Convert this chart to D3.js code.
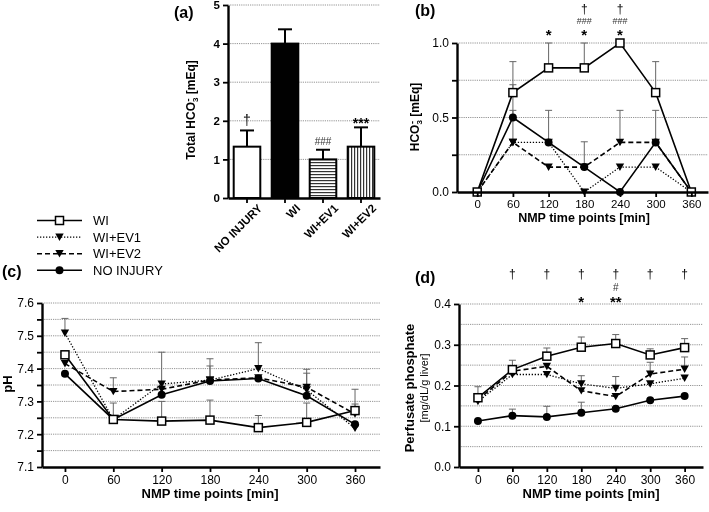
<!DOCTYPE html>
<html><head><meta charset="utf-8">
<script src="https://cdn.jsdelivr.net/npm/d3@7"></script>
<style>
body{margin:0;background:#fff;}
svg{display:block;font-family:"Liberation Sans",Arial,Helvetica,sans-serif;}
</style></head><body>
<svg id="chart" width="709" height="512"></svg>
<script>
// ---------- data ----------
const times = [0, 60, 120, 180, 240, 300, 360];
const seriesNames = ["WI", "WI+EV1", "WI+EV2", "NO INJURY"];

// panel (a)
const barCategories = ["NO INJURY", "WI", "WI+EV1", "WI+EV2"];
const barValues = [1.33, 4.0, 1.0, 1.33];
const barErrors = [0.42, 0.37, 0.25, 0.5];
const barMarks = ["†", "", "###", "***"];
const barTicks = [0, 1, 2, 3, 4, 5];

// panel (b) HCO3-
const hco3WI = [0, 0.667, 0.833, 0.833, 1.0, 0.667, 0];
const hco3EV1 = [0, 0.333, 0.333, 0, 0.167, 0.167, 0];
const hco3EV2 = [0, 0.333, 0.167, 0.167, 0.333, 0.333, 0];
const hco3NoInj = [0, 0.5, 0.333, 0.167, 0, 0.333, 0];
const hco3ErrWI = [0, 0.208, 0.167, 0.167, 0, 0.208, 0];
const hco3ErrEV1 = [0, 0.215, 0, 0, 0, 0, 0];
const hco3ErrEV2 = [0, 0, 0, 0, 0.215, 0, 0];
const hco3ErrNoInj = [0, 0.22, 0.215, 0.17, 0, 0.215, 0];
const hco3Ticks = [0, 0.25, 0.5, 0.75, 1.0];
const hco3Marks = [[], [], ["", "", "*"], ["†", "###", "*"], ["†", "###", "*"], [], []];

// panel (c) pH
const phWI = [7.442, 7.245, 7.24, 7.243, 7.22, 7.236, 7.272];
const phEV1 = [7.508, 7.245, 7.353, 7.365, 7.40, 7.335, 7.218];
const phEV2 = [7.415, 7.33, 7.337, 7.365, 7.372, 7.343, 7.262];
const phNoInj = [7.384, 7.245, 7.32, 7.362, 7.37, 7.317, 7.23];
const phErrWI = [0, 0.05, 0.06, 0.061, 0.037, 0.059, 0.065];
const phErrEV1 = [0.045, 0, 0.097, 0.065, 0.079, 0.051, 0];
const phErrEV2 = [0, 0.042, 0, 0, 0, 0.055, 0.03];
const phErrNoInj = [0, 0, 0, 0.046, 0, 0, 0];
const phTicks = [7.1, 7.15, 7.2, 7.25, 7.3, 7.35, 7.4, 7.45, 7.5, 7.55, 7.6];

// panel (d) perfusate phosphate
const phosWI = [0.17, 0.239, 0.272, 0.294, 0.303, 0.275, 0.293];
const phosEV1 = [0.161, 0.227, 0.227, 0.204, 0.193, 0.204, 0.218];
const phosEV2 = [0.165, 0.235, 0.247, 0.187, 0.173, 0.228, 0.24];
const phosNoInj = [0.113, 0.126, 0.123, 0.133, 0.143, 0.164, 0.174];
const phosErrWI = [0.027, 0.023, 0.02, 0.025, 0.022, 0.015, 0.022];
const phosErrEV1 = [0, 0, 0, 0.02, 0.029, 0, 0];
const phosErrEV2 = [0, 0, 0, 0, 0, 0.029, 0.03];
const phosErrNoInj = [0, 0.016, 0.026, 0.026, 0, 0, 0];
const phosTicks = [0, 0.1, 0.2, 0.3, 0.4];
const phosGrid = [0.05, 0.1, 0.15, 0.2, 0.25, 0.3, 0.35, 0.4];
const phosMarks = [[], ["†"], ["†"], ["†", "", "*"], ["†", "#", "**"], ["†"], ["†"]];

// ---------- styles ----------
const seriesStyle = {
  "WI": {dash: null, marker: "square"},
  "WI+EV1": {dash: "1.3,1.7", marker: "tri"},
  "WI+EV2": {dash: "5,3", marker: "tri"},
  "NO INJURY": {dash: null, marker: "circle"}
};
const FONT = '"Liberation Sans",Arial,Helvetica,sans-serif';
const root = d3.select("#chart");
root.append("rect").attr("width", 709).attr("height", 512).attr("fill", "#fff");
const svg = root.append("g").attr("opacity", 0.999);

// patterns
const defs = root.append("defs");
const ph = defs.append("pattern").attr("id", "hstripe").attr("patternUnits", "userSpaceOnUse")
  .attr("width", 4).attr("height", 3);
ph.append("rect").attr("width", 4).attr("height", 3).attr("fill", "#fff");
ph.append("rect").attr("y", 0).attr("width", 4).attr("height", 1.2).attr("fill", "#333");
const pv = defs.append("pattern").attr("id", "vstripe").attr("patternUnits", "userSpaceOnUse")
  .attr("width", 3).attr("height", 4);
pv.append("rect").attr("width", 3).attr("height", 4).attr("fill", "#fff");
pv.append("rect").attr("x", 0).attr("width", 1.2).attr("height", 4).attr("fill", "#333");

function drawMarker(g, type, x, y) {
  if (type === "square") {
    g.append("rect").attr("x", x - 4).attr("y", y - 4).attr("width", 8).attr("height", 8)
      .attr("fill", "#fff").attr("stroke", "#000").attr("stroke-width", 1.5);
  } else if (type === "circle") {
    g.append("circle").attr("cx", x).attr("cy", y).attr("r", 4).attr("fill", "#000");
  } else {
    g.append("path").attr("d", `M${x - 4.2},${y - 3.6}L${x + 4.2},${y - 3.6}L${x},${y + 3.8}Z`).attr("fill", "#000");
  }
}

function styleAxis(ax, fontSize, bold) {
  ax.select(".domain").attr("stroke", "#000").attr("stroke-width", 2.4);
  ax.selectAll(".tick line").attr("stroke", "#000").attr("stroke-width", 1.8);
  ax.selectAll(".tick text").attr("font-family", FONT).attr("font-size", fontSize)
    .attr("font-weight", bold ? "bold" : "normal").attr("fill", "#000");
}

function grid(g, xs, ys, vals) {
  const r = xs.range();
  g.append("g").selectAll("line").data(vals).join("line")
    .attr("x1", r[0]).attr("x2", r[1])
    .attr("y1", d => ys(d)).attr("y2", d => ys(d))
    .attr("stroke", "#888").attr("stroke-width", 0.9).attr("stroke-dasharray", "1.2,1");
}

// ---------- panel (a) ----------
const xA = d3.scaleBand().domain(barCategories).range([228, 380]).paddingInner(0.3).paddingOuter(0.15);
const yA = d3.scaleLinear().domain([0, 5]).range([198, 5]);
const gA = svg.append("g");
grid(gA, d3.scaleLinear().range([228, 380]), yA, [1, 2, 3, 4, 5]);
const fills = ["#fff", "#000", "url(#hstripe)", "url(#vstripe)"];
barCategories.forEach((c, i) => {
  const x0 = xA(c), w = xA.bandwidth(), cx = x0 + w / 2;
  const top = yA(barValues[i] + barErrors[i]);
  gA.append("line").attr("x1", cx).attr("x2", cx).attr("y1", yA(barValues[i])).attr("y2", top)
    .attr("stroke", "#000").attr("stroke-width", 2);
  gA.append("line").attr("x1", cx - 7).attr("x2", cx + 7).attr("y1", top).attr("y2", top)
    .attr("stroke", "#000").attr("stroke-width", 2);
  gA.append("rect").attr("x", x0).attr("y", yA(barValues[i])).attr("width", w)
    .attr("height", yA(0) - yA(barValues[i])).attr("fill", fills[i])
    .attr("stroke", "#000").attr("stroke-width", 2);
  if (barMarks[i]) {
    const m = barMarks[i];
    const fs = m === "###" ? 10 : 14;
    gA.append("text").attr("x", cx).attr("y", top - (m === "***" ? -1 : 5))
      .attr("text-anchor", "middle").attr("font-size", fs).attr("fill", m === "###" ? "#333" : "#000")
      .attr("font-weight", m === "***" ? "bold" : "normal")
      .text(m);
  }
});
const axAy = gA.append("g").attr("transform", "translate(228,0)")
  .call(d3.axisLeft(yA).tickValues(barTicks).tickFormat(d3.format("d")).tickSize(5).tickPadding(3).tickSizeOuter(0));
styleAxis(axAy, 11.5, true);
const axAx = gA.append("g").attr("transform", "translate(0,198)")
  .call(d3.axisBottom(xA).tickSize(5).tickSizeOuter(0));
styleAxis(axAx, 11.5, true);
axAx.selectAll(".tick text").attr("text-anchor", "end")
  .attr("transform", "translate(3,-2) rotate(-45)").attr("dx", 0).attr("dy", "0.9em")
  .attr("y", 8).attr("x", 0);
gA.append("text").attr("transform", "translate(195,110) rotate(-90)").attr("text-anchor", "middle")
  .attr("font-weight", "bold").attr("font-size", 12)
  .call(t => {
    t.append("tspan").text("Total HCO");
    t.append("tspan").attr("font-size", 8).attr("dy", 3).text("3");
    t.append("tspan").attr("font-size", 9).attr("dy", -7).attr("dx", -4).text("-");
    t.append("tspan").attr("dy", 4).attr("dx", 1).text(" [mEq]");
  });
svg.append("text").attr("x", 174).attr("y", 18).attr("font-weight", "bold").attr("font-size", 16).text("(a)");

// ---------- generic line panel ----------
function linePanel(opt) {
  const g = svg.append("g");
  const xs = opt.x, ys = opt.y;
  grid(g, xs, ys, opt.grid);
  // error bars
  opt.series.forEach((s, si) => {
    s.vals.forEach((v, i) => {
      const e = s.errs[i];
      if (!e) return;
      const cx = xs(times[i]), y0 = ys(v), y1 = ys(v + e);
      g.append("line").attr("x1", cx).attr("x2", cx).attr("y1", y0).attr("y2", y1)
        .attr("stroke", "#666").attr("stroke-width", 1);
      g.append("line").attr("x1", cx - 3.5).attr("x2", cx + 3.5).attr("y1", y1).attr("y2", y1)
        .attr("stroke", "#666").attr("stroke-width", 1);
    });
  });
  const line = d3.line().x((d, i) => xs(times[i])).y(d => ys(d));
  opt.series.forEach(s => {
    const st = seriesStyle[s.name];
    g.append("path").attr("d", line(s.vals)).attr("fill", "none").attr("stroke", "#000")
      .attr("stroke-width", st.dash && st.dash.startsWith("1") ? 1.3 : 1.6)
      .attr("stroke-dasharray", st.dash);
  });
  opt.series.slice().reverse().forEach(s => {
    const st = seriesStyle[s.name];
    s.vals.forEach((v, i) => drawMarker(g, st.marker, xs(times[i]), ys(v)));
  });
  const ay = g.append("g").attr("transform", `translate(${xs.range()[0]},0)`)
    .call(d3.axisLeft(ys).tickValues(opt.ticks).tickSize(5).tickPadding(3).tickSizeOuter(0)
      .tickFormat(opt.fmt));
  styleAxis(ay, 12, false);
  const ax = g.append("g").attr("transform", `translate(0,${ys.range()[0]})`)
    .call(d3.axisBottom(xs).tickValues(times).tickSize(5).tickPadding(3).tickSizeOuter(0));
  styleAxis(ax, opt.xfs || 12, false);
  g.append("text").attr("x", opt.xlabelX).attr("y", ys.range()[0] + opt.xlabelDy)
    .attr("text-anchor", "middle").attr("font-weight", "bold").attr("font-size", opt.xlabelFs || 13)
    .text("NMP time points [min]");
  // annotations
  if (opt.marks) {
    opt.marks.forEach((arr, i) => {
      arr.forEach((m, ri) => {
        if (!m) return;
        const row = opt.markRows[ri];
        g.append("text").attr("x", xs(times[i])).attr("y", row.y)
          .attr("text-anchor", "middle").attr("font-size", row.fs).attr("fill", row.c || "#000")
          .attr("font-weight", row.b ? "bold" : "normal").text(m);
      });
    });
  }
  return g;
}

// ---------- panel (b) ----------
const xB = d3.scaleLinear().domain([-34, 388]).range([457, 708]);
const yB = d3.scaleLinear().domain([0, 1]).range([192, 43]);
const gB = linePanel({
  x: xB, y: yB, grid: [0.25, 0.5, 0.75, 1.0], ticks: hco3Ticks,
  fmt: d => (d * 2) % 1 === 0 ? d3.format(".1f")(d) : "",
  series: [
    {name: "WI", vals: hco3WI, errs: hco3ErrWI},
    {name: "WI+EV1", vals: hco3EV1, errs: hco3ErrEV1},
    {name: "WI+EV2", vals: hco3EV2, errs: hco3ErrEV2},
    {name: "NO INJURY", vals: hco3NoInj, errs: hco3ErrNoInj}
  ],
  xlabelX: 584, xlabelDy: 30, xlabelFs: 12.5, xfs: 11.5,
  marks: hco3Marks,
  markRows: [{y: 13, fs: 12}, {y: 24, fs: 9, c: "#333"}, {y: 40, fs: 15, b: true}]
});
gB.append("text").attr("transform", "translate(419,117) rotate(-90)").attr("text-anchor", "middle")
  .attr("font-weight", "bold").attr("font-size", 12)
  .call(t => {
    t.append("tspan").text("HCO");
    t.append("tspan").attr("font-size", 8).attr("dy", 3).text("3");
    t.append("tspan").attr("font-size", 9).attr("dy", -7).attr("dx", -4).text("-");
    t.append("tspan").attr("dy", 4).attr("dx", 1).text(" [mEq]");
  });
svg.append("text").attr("x", 415).attr("y", 16).attr("font-weight", "bold").attr("font-size", 16).text("(b)");

// ---------- panel (c) ----------
const xC = d3.scaleLinear().domain([-28.5, 391]).range([42, 380]);
const yC = d3.scaleLinear().domain([7.1, 7.6]).range([467, 303]);
linePanel({
  x: xC, y: yC, grid: phTicks.slice(1), ticks: phTicks,
  fmt: d => Math.round(d * 100) % 10 === 0 ? d3.format(".1f")(d) : "",
  series: [
    {name: "WI", vals: phWI, errs: phErrWI},
    {name: "WI+EV1", vals: phEV1, errs: phErrEV1},
    {name: "WI+EV2", vals: phEV2, errs: phErrEV2},
    {name: "NO INJURY", vals: phNoInj, errs: phErrNoInj}
  ],
  xlabelX: 210, xlabelDy: 31
});
svg.append("text").attr("transform", "translate(12,384) rotate(-90)").attr("text-anchor", "middle")
  .attr("font-weight", "bold").attr("font-size", 13).text("pH");
svg.append("text").attr("x", 2).attr("y", 277).attr("font-weight", "bold").attr("font-size", 16).text("(c)");

// ---------- panel (d) ----------
const xD = d3.scaleLinear().domain([-33, 392]).range([459, 703]);
const yD = d3.scaleLinear().domain([0, 0.4]).range([467, 304]);
linePanel({
  x: xD, y: yD, grid: phosGrid, ticks: phosTicks,
  fmt: d3.format(".1f"),
  series: [
    {name: "WI", vals: phosWI, errs: phosErrWI},
    {name: "WI+EV1", vals: phosEV1, errs: phosErrEV1},
    {name: "WI+EV2", vals: phosEV2, errs: phosErrEV2},
    {name: "NO INJURY", vals: phosNoInj, errs: phosErrNoInj}
  ],
  xlabelX: 591, xlabelDy: 31,
  marks: phosMarks,
  markRows: [{y: 278, fs: 12}, {y: 291, fs: 10, c: "#333"}, {y: 307, fs: 15, b: true}]
});
svg.append("text").attr("transform", "translate(414,388) rotate(-90)").attr("text-anchor", "middle")
  .attr("font-weight", "bold").attr("font-size", 13).text("Perfusate phosphate");
svg.append("text").attr("transform", "translate(428,388) rotate(-90)").attr("text-anchor", "middle")
  .attr("font-size", 11).text("[mg/dL/g liver]");
svg.append("text").attr("x", 415).attr("y", 283).attr("font-weight", "bold").attr("font-size", 16).text("(d)");

// ---------- legend ----------
const lg = svg.append("g");
seriesNames.forEach((n, i) => {
  const y = 220.5 + i * 16.6;
  const st = seriesStyle[n];
  lg.append("line").attr("x1", 37).attr("x2", 82).attr("y1", y).attr("y2", y)
    .attr("stroke", "#000").attr("stroke-width", st.dash && st.dash.startsWith("1") ? 1.3 : 1.6)
    .attr("stroke-dasharray", st.dash);
  drawMarker(lg, st.marker, 59.5, y);
  lg.append("text").attr("x", 93).attr("y", y + 4.5).attr("font-size", 13).text(n);
});
</script>
</body></html>
